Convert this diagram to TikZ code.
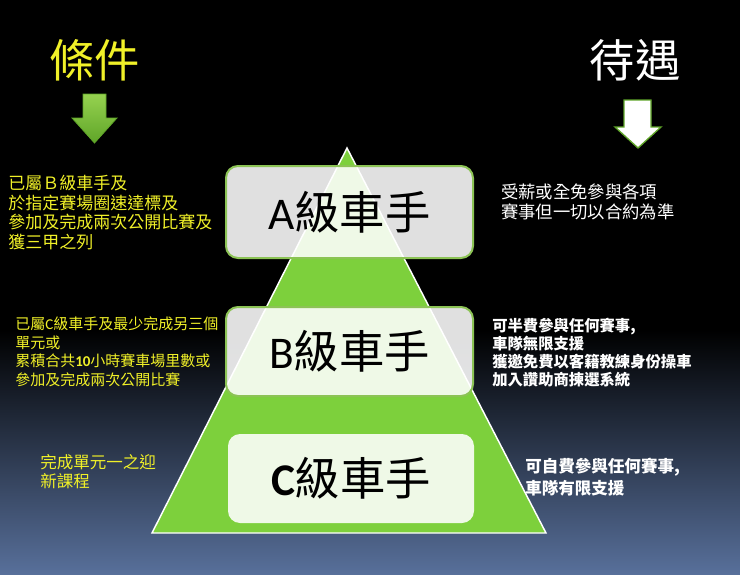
\documentclass[tikz,border=0pt]{standalone}
\usepackage{fontspec}
\setmainfont{Noto Sans CJK TC}
\newfontfamily\latinf{Carlito}
\definecolor{trigreen}{RGB}{125,208,60}
\definecolor{boxgreen}{RGB}{140,195,85}
\definecolor{ylw}{RGB}{240,240,40}
\definecolor{bgblue}{RGB}{88,112,155}
\definecolor{bgmid}{RGB}{33,41,58}
\definecolor{arrlight}{RGB}{150,210,80}
\definecolor{arrdark}{RGB}{95,165,40}
\tikzset{
  levelbox/.style={draw=boxgreen, line width=1.5pt, rounded corners=9pt, fill=white, fill opacity=0.88, text opacity=1, minimum width=185.25pt, minimum height=69pt, inner sep=0pt, font=\fontsize{34}{40}\selectfont, text=black},
  lefttext/.style={anchor=west, align=left, inner sep=0pt, text=ylw},
  righttext/.style={anchor=west, align=left, inner sep=0pt, text=white},
  title/.style={inner sep=0pt, font=\fontsize{34}{40}\selectfont},
}
\begin{document}
\begin{tikzpicture}[x=0.75pt, y=-0.75pt]
\useasboundingbox (0,0) rectangle (740,575);
% background
\fill[black] (0,0) rectangle (740,575);
\shade[top color=black, middle color=bgmid, bottom color=bgblue] (0,330) rectangle (740,575);
% pyramid
\coordinate (apex) at (347,148);
\coordinate (bl) at (152,533);
\coordinate (br) at (546,533);
\draw[fill=trigreen, draw=white, line width=1.1pt] (apex) -- (br) -- (bl) -- cycle;
% level boxes
\node[levelbox] (boxA) at (349.5,212) {{\latinf A}級車手};
\node[levelbox, minimum height=66.75pt] (boxB) at (349.5,351.5) {{\latinf B}級車手};
\node[levelbox, draw=none, minimum width=184.5pt, minimum height=66.75pt] (boxC) at (351,478.5) {{\latinf\bfseries C}級車手};
% titles
\node[title, text=ylw] (tleft) at (95,60) {條件};
\node[title, text=white] (tright) at (635,60) {待遇};
% arrows
\shade[top color=arrlight, bottom color=arrdark, draw=arrdark, line width=0.6pt]
  (83,94) -- (106,94) -- (106,118) -- (117,118) -- (94.5,143) -- (72,118) -- (83,118) -- cycle;
\draw[fill=white, draw=arrdark, line width=1pt]
  (624,100) -- (651,100) -- (651,127) -- (661,127) -- (638,148) -- (615,127) -- (624,127) -- cycle;
% left texts
\node[lefttext, font=\fontsize{12.75}{14.6}\selectfont] (condA) at (8,212.5) {已屬Ｂ級車手及\\於指定賽場圈速達標及\\參加及完成兩次公開比賽及\\獲三甲之列};
\node[lefttext, font=\fontsize{11.25}{13.9}\selectfont] (condB) at (15,352) {已屬{\latinf C}級車手及最少完成另三個\\單元或\\累積合共{\latinf\bfseries 10}小時賽車場里數或\\參加及完成兩次公開比賽};
\node[lefttext, font=\fontsize{12.4}{14.25}\selectfont] (condC) at (40,471.5) {完成單元一之迎\\新課程};
% right texts
\node[righttext, font=\fontsize{13}{15}\selectfont] (benA) at (501,202) {受薪或全免參與各項\\賽事但一切以合約為準};
\node[righttext, font=\bfseries\fontsize{11.5}{13.7}\selectfont] (benB) at (492,352.5) {可半費參與任何賽事,\\車隊無限支援\\獲邀免費以客籍教練身份操車\\加入讚助商揀選系統};
\node[righttext, font=\bfseries\fontsize{12.4}{16.5}\selectfont] (benC) at (525,477) {可自費參與任何賽事,\\車隊有限支援};
\end{tikzpicture}
\end{document}
